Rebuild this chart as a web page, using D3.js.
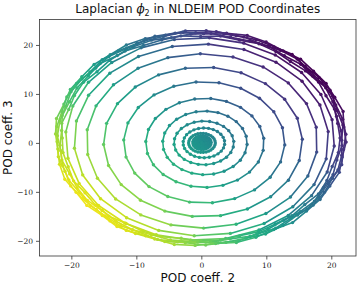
<!DOCTYPE html>
<html>
<head>
<meta charset="utf-8">
<script src="https://cdn.jsdelivr.net/npm/d3@7"></script>
<style>
  body { margin: 0; background: #fff; }
  svg { display: block; }
</style>
</head>
<body>
<div id="vis"></div>
<script>
// ring parameters (data units)
const ringR      = [0.35, 0.7, 1.05, 1.4, 2.05, 3.2, 4.6, 6.5, 9.1, 12.4, 15.3, 17.8, 19.6, 20.7, 21.3, 21.6, 21.9, 22.1, 22.3];
const ringAspect = [1, 1, 1, 1, 0.95, 0.95, 0.97, 1.0, 1.0, 1.0, 1.0, 1.0, 1.0, 1.0, 0.98, 0.98, 0.98, 0.98, 0.98];
const ringCx     = [0.1, 0.1, 0.1, 0.1, 0.1, 0.4, 0.4, 0.55, 0.55, 0.45, 0.25, 0.1, 0.0, -0.2, -0.1, -0.1, -0.1, -0.1, -0.1];
const ringCy     = [0.05, 0.05, 0.05, 0.05, 0.0, 0.0, 0.0, 0.0, 0.0, 0.1, 0.2, 0.4, 0.6, 0.8, 1.0, 1.0, 1.0, 1.0, 1.0];
const ringCount  = [14, 18, 22, 26, 30, 26, 24, 24, 23, 22, 22, 22, 22, 24, 44, 44, 44, 44, 44];
const ringPhase  = [0, 5, 10, 3, 0, 8, 4, 12, 6, 14, 2, 9, 5, 11, 0, 4, 7, 2, 6];
// radius wobble of the fuzzy outer band (data units)
const bandWobble = [0.15, -0.1, 0.25, 0.05, -0.2, 0.1, 0.3, -0.05, 0.15, -0.15, 0.2, 0.0,
                    -0.1, 0.25, 0.1, -0.2, 0.15, 0.05, -0.15, 0.3, 0.0, 0.1, -0.05, 0.2,
                    -0.15, 0.1, 0.25, -0.1, 0.05, 0.15, -0.2, 0.1, 0.2, -0.05, 0.15, 0.0];

const xTicks = [-20, -10, 0, 10, 20];
const yTicks = [-20, -10, 0, 10, 20];

const W = 359, H = 285;
const margin = {top: 19.5, right: 3, bottom: 29, left: 39.5};

const svg = d3.select("#vis").append("svg")
  .attr("width", W).attr("height", H)
  .style("font-family", "'DejaVu Sans', sans-serif");

const x = d3.scaleLinear().domain([-24.9, 23.8]).range([margin.left, W - margin.right]);
const y = d3.scaleLinear().domain([-23.1, 25.2]).range([H - margin.bottom, margin.top]);

// colour follows a direction in the plane (top-right purple, bottom-left yellow)
const ang = 40 * Math.PI / 180;
const color = d3.scaleSequential(d3.interpolateViridis).domain([22.7, -22.7]).clamp(true);
const colorAt = (px, py) => color(px * Math.cos(ang) + py * Math.sin(ang));

// build ring points
const rings = ringR.map((r, i) => {
  const n = ringCount[i];
  const pts = [];
  for (let k = 0; k < n; k++) {
    const a = (k / n) * 2 * Math.PI + ringPhase[i] * Math.PI / 180;
    const w = i >= 14 ? bandWobble[(k + i * 5) % bandWobble.length] : 0;
    const rr = r + w;
    pts.push([ringCx[i] + rr * Math.cos(a), ringCy[i] + rr * ringAspect[i] * Math.sin(a)]);
  }
  return pts;
});

const g = svg.append("g");

rings.forEach(pts => {
  const segs = pts.map((p, k) => [p, pts[(k + 1) % pts.length]]);
  g.selectAll(null).data(segs).enter().append("line")
    .attr("x1", d => x(d[0][0])).attr("y1", d => y(d[0][1]))
    .attr("x2", d => x(d[1][0])).attr("y2", d => y(d[1][1]))
    .attr("stroke", d => colorAt((d[0][0] + d[1][0]) / 2, (d[0][1] + d[1][1]) / 2))
    .attr("stroke-width", 1.6)
    .attr("stroke-linecap", "round");
  g.selectAll(null).data(pts).enter().append("circle")
    .attr("cx", d => x(d[0])).attr("cy", d => y(d[1]))
    .attr("r", 1.7)
    .attr("fill", d => colorAt(d[0], d[1]));
});

// frame
svg.append("rect")
  .attr("x", margin.left).attr("y", margin.top)
  .attr("width", W - margin.right - margin.left)
  .attr("height", H - margin.bottom - margin.top)
  .attr("fill", "none").attr("stroke", "#333").attr("stroke-width", 0.8);

const fmt = d => d < 0 ? "\u2212" + Math.abs(d) : String(d);

const xAxis = svg.append("g")
  .attr("transform", "translate(0," + (H - margin.bottom) + ")")
  .call(d3.axisBottom(x).tickValues(xTicks).tickFormat(fmt).tickSize(3.5).tickPadding(3));
const yAxis = svg.append("g")
  .attr("transform", "translate(" + margin.left + ",0)")
  .call(d3.axisLeft(y).tickValues(yTicks).tickFormat(fmt).tickSize(3.5).tickPadding(3));

[xAxis, yAxis].forEach(ax => {
  ax.select(".domain").remove();
  ax.selectAll(".tick line").attr("stroke", "#333").attr("stroke-width", 0.8);
  ax.selectAll(".tick text")
    .attr("fill", "#222")
    .style("font-family", "'DejaVu Serif', serif")
    .style("font-size", "7.5px");
});

// labels
svg.append("text")
  .attr("x", (margin.left + W - margin.right) / 2).attr("y", 281.5)
  .attr("text-anchor", "middle").attr("fill", "#111")
  .style("font-size", "12px")
  .text("POD coeff. 2");

svg.append("text")
  .attr("transform", "translate(12," + ((margin.top + H - margin.bottom) / 2) + ") rotate(-90)")
  .attr("text-anchor", "middle").attr("fill", "#111")
  .style("font-size", "12px")
  .text("POD coeff. 3");

const title = svg.append("text")
  .attr("x", (margin.left + W - margin.right) / 2).attr("y", 13)
  .attr("text-anchor", "middle").attr("fill", "#111")
  .style("font-size", "12px");
title.append("tspan").text("Laplacian ");
title.append("tspan").style("font-family", "'DejaVu Serif', serif").style("font-style", "italic").text("\u03D5");
title.append("tspan").attr("dy", 2.5).style("font-size", "8px").text("2");
title.append("tspan").attr("dy", -2.5).text(" in NLDEIM POD Coordinates");
</script>
</body>
</html>
